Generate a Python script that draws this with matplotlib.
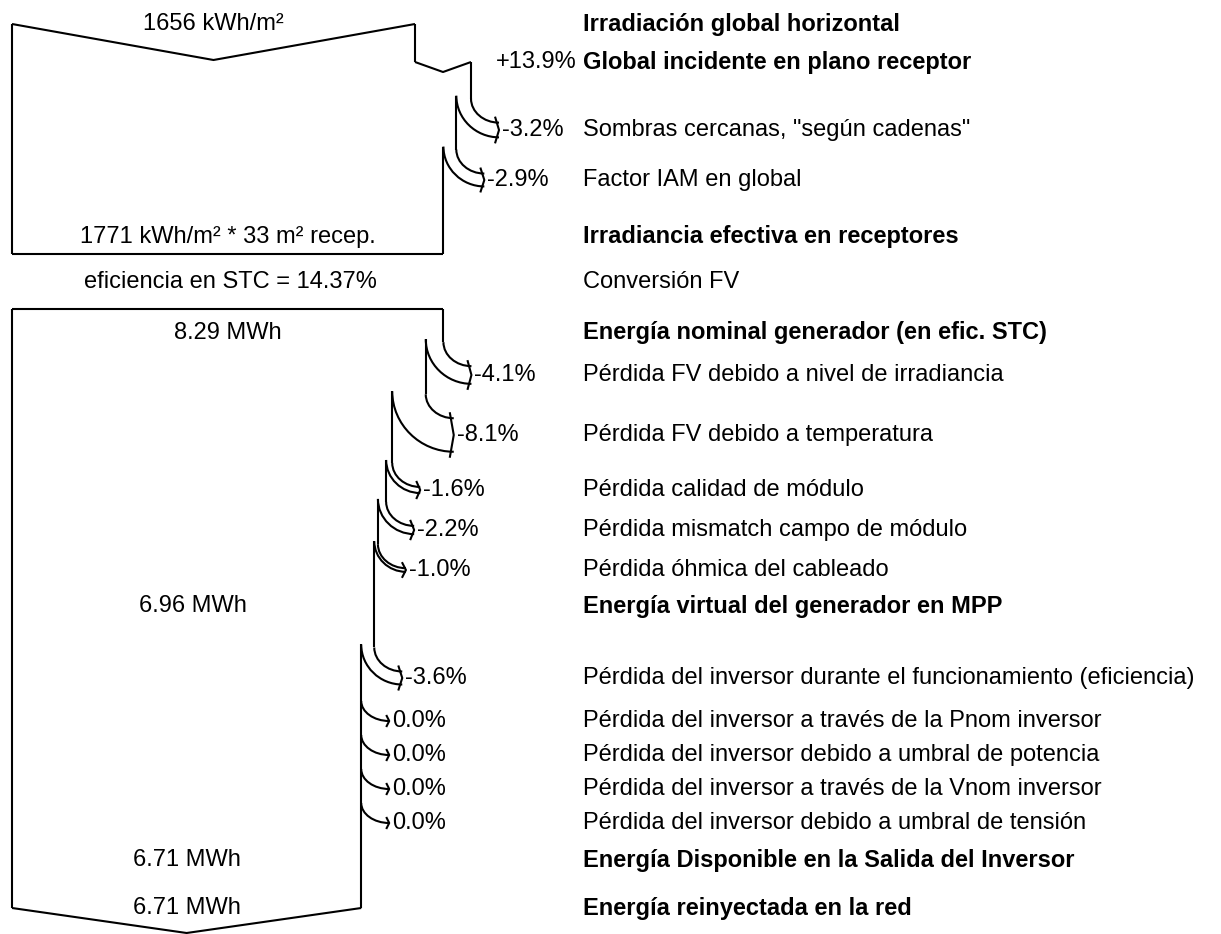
import matplotlib
matplotlib.use("Agg")
import matplotlib.pyplot as plt
from matplotlib.path import Path
from matplotlib.patches import PathPatch

plt.rcParams['font.family'] = ['Liberation Sans', 'DejaVu Sans']

# ---- data ----
ghi = 1656            # kWh/m2, global horizontal
irr_pct = [13.9, -3.2, -2.9]          # incidence gain, shading, IAM
e_nom = 8.29          # MWh nominal energy at STC efficiency
pv_pct = [-4.1, -8.1, -1.6, -2.2, -1.0]
inv_pct = [-3.6, 0.0, 0.0, 0.0, 0.0]

row_labels = [
    "Irradiación global horizontal",
    "Global incidente en plano receptor",
    'Sombras cercanas, "según cadenas"',
    "Factor IAM en global",
    "Irradiancia efectiva en receptores",
    "Conversión FV",
    "Energía nominal generador (en efic. STC)",
    "Pérdida FV debido a nivel de irradiancia",
    "Pérdida FV debido a temperatura",
    "Pérdida calidad de módulo",
    "Pérdida mismatch campo de módulo",
    "Pérdida óhmica del cableado",
    "Energía virtual del generador en MPP",
    "Pérdida del inversor durante el funcionamiento (eficiencia)",
    "Pérdida del inversor a través de la Pnom inversor",
    "Pérdida del inversor debido a umbral de potencia",
    "Pérdida del inversor a través de la Vnom inversor",
    "Pérdida del inversor debido a umbral de tensión",
    "Energía Disponible en la Salida del Inversor",
    "Energía reinyectada en la red",
]
row_bold = [1, 1, 0, 0, 1, 0, 1, 0, 0, 0, 0, 0, 1, 0, 0, 0, 0, 0, 1, 1]
left_values = {
    0: "1656 kWh/m²",
    4: "1771 kWh/m² * 33 m² recep.",
    5: "eficiencia en STC = 14.37%",
    6: "8.29 MWh",
    12: "6.96 MWh",
    18: "6.71 MWh",
    19: "6.71 MWh",
}

# ---- layout (pixels) ----
row_y = [24, 62, 130, 180, 237, 282, 333, 375, 435, 490, 530, 570, 606,
         678, 721, 755, 789, 823, 860, 908]
x0 = 12          # left edge of the flow
W0 = 403         # flow width for the first value
x_label = 583
LW = 1.5
FS = 17

fig = plt.figure(figsize=(12.21, 9.34), dpi=100)
ax = fig.add_axes([0, 0, 1, 1])
ax.set_xlim(0, 1221)
ax.set_ylim(934, 0)
ax.axis('off')


def line(xs, ys):
    ax.plot(xs, ys, color='black', lw=LW, solid_capstyle='butt')


def curve(p0, p1, k=0.55):
    (xa, ya), (xb, yb) = p0, p1
    verts = [(xa, ya), (xa, ya + k * (yb - ya)), (xb - k * (xb - xa), yb), (xb, yb)]
    codes = [Path.MOVETO, Path.CURVE4, Path.CURVE4, Path.CURVE4]
    ax.add_patch(PathPatch(Path(verts, codes), fill=False, ec='black', lw=LW))


def loss(xr, ytop, w, y, txt):
    xt = xr + 28
    if w > 0.5:
        ys = y - w / 2 - 24
        line([xr, xr], [ytop, ys])
        curve((xr, ys), (xt, y - w / 2))
        xi = xr - w
        yi = y - w / 2 - 27
        curve((xi, yi), (xt, y + w / 2))
        line([xt - 4, xt, xt - 4], [y - w / 2 - 6, y, y + w / 2 + 6])
        xr, ytop = xi, yi
    else:
        curve((xr, y - 20), (xt, y))
        line([xt - 3, xt, xt - 3], [y - 6, y, y + 6])
    ax.text(xt + 3, y, txt, ha='left', va='center', fontsize=FS)
    return xr, ytop


def pct_txt(p):
    if p > 0:
        return "+%.1f%%" % p
    if p == 0:
        return "0.0%"
    return "%.1f%%" % p


# ---- section 1: irradiation ----
s1 = W0 / ghi
v = ghi
xr = x0 + v * s1
line([x0, (x0 + xr) / 2, xr], [row_y[0], row_y[0] + 36, row_y[0]])
ytop = row_y[0]
for i, p in zip([1, 2, 3], irr_pct):
    y = row_y[i]
    if p > 0:
        line([xr, xr], [ytop, y])
        v *= 1 + p / 100
        xn = x0 + v * s1
        line([xr, (xr + xn) / 2, xn], [y, y + 10, y])
        ax.text(577, y, pct_txt(p), ha='right', va='center', fontsize=FS)
        xr, ytop = xn, y
    else:
        w = v * s1 * (-p) / 100
        v *= 1 + p / 100
        xr, ytop = loss(xr, ytop, w, y, pct_txt(p))
y_bot1 = row_y[4] + 17
line([xr, xr], [ytop, y_bot1])
line([x0, xr], [y_bot1, y_bot1])
line([x0, x0], [row_y[0], y_bot1])
mid = {0: (x0 + x0 + W0) / 2, 4: (x0 + xr) / 2, 5: (x0 + xr) / 2 + 3}

# ---- section 2: energy ----
s2 = (xr - x0) / e_nom
v = e_nom
xr = x0 + v * s2
y_top2 = row_y[6] - 24
line([x0, xr], [y_top2, y_top2])
mid[6] = (x0 + xr) / 2
ytop = y_top2
for i, p in zip([7, 8, 9, 10, 11], pv_pct):
    w = v * s2 * (-p) / 100
    v *= 1 + p / 100
    xr, ytop = loss(xr, ytop, w, row_y[i], pct_txt(p))
mid[12] = (x0 + xr) / 2
for i, p in zip([13, 14, 15, 16, 17], inv_pct):
    w = v * s2 * (-p) / 100
    v *= 1 + p / 100
    xr, ytop = loss(xr, ytop, w, row_y[i], pct_txt(p))
mid[18] = mid[19] = (x0 + xr) / 2
y_bot2 = row_y[19]
line([xr, xr], [ytop, y_bot2])
line([x0, x0], [y_top2, y_bot2])
line([x0, (x0 + xr) / 2, xr], [y_bot2, y_bot2 + 25, y_bot2])

# ---- texts ----
for i, lab in enumerate(row_labels):
    ax.text(x_label, row_y[i], lab, ha='left', va='center', fontsize=FS,
            fontweight='bold' if row_bold[i] else 'normal')
for i, t in left_values.items():
    ax.text(mid[i], row_y[i], t, ha='center', va='center', fontsize=FS)

fig.savefig("out.png", dpi=100, facecolor='white')
